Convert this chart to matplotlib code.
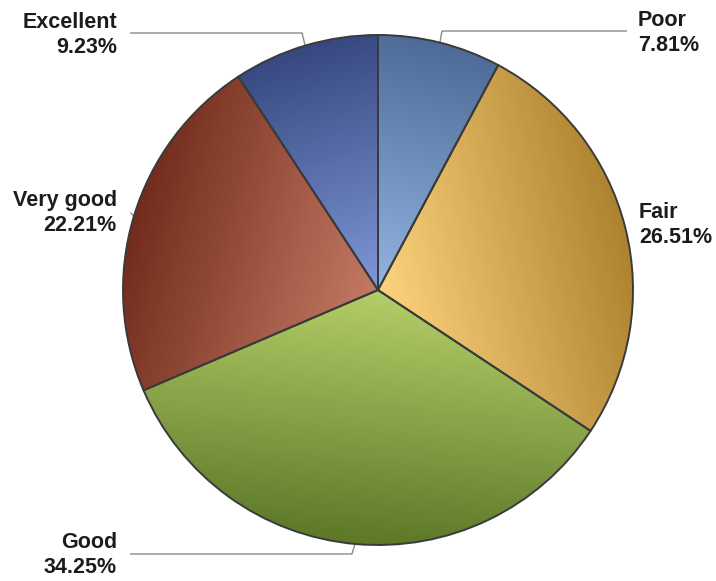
import numpy as np
import matplotlib
matplotlib.use('Agg')
from matplotlib import pyplot as plt
from matplotlib.colors import LinearSegmentedColormap

# self-rated health shares, clockwise from the top
labels = ['Poor', 'Fair', 'Good', 'Very good', 'Excellent']
shares = [7.81, 26.51, 34.25, 22.21, 9.23]
# (light near centre, dark at rim) for each slice
shades = [('#96b4e2', '#4d6b96'),
          ('#fdd37e', '#ad8330'),
          ('#b4ce68', '#5c7828'),
          ('#c47a64', '#732c1c'),
          ('#7f98d8', '#374880')]

W, H = 716, 581
cx, cy, R = 378, 291, 255

fig = plt.figure(figsize=(W / 100, H / 100), dpi=100)
ax = fig.add_axes([0, 0, 1, 1])

wedges, _ = ax.pie(shares, startangle=90, counterclock=False,
                   center=(cx, cy), radius=R,
                   wedgeprops=dict(facecolor='none', edgecolor='#3a3a3a',
                                   linewidth=1.4, zorder=3))
ax.set_xlim(0, W)
ax.set_ylim(0, H)
ax.set_aspect('equal')
ax.axis('off')

# linear gradient along each slice's bisector, clipped to the slice
xs = np.linspace(0, W, W)
ys = np.linspace(0, H, H)
gx, gy = np.meshgrid(xs - cx, ys - cy)
for w, (light, dark) in zip(wedges, shades):
    mid = np.deg2rad((w.theta1 + w.theta2) / 2)
    t = (gx * np.cos(mid) + gy * np.sin(mid)) / R
    t = np.clip(t, 0, 1)
    cmap = LinearSegmentedColormap.from_list('g', [light, dark])
    im = ax.imshow(t, cmap=cmap, vmin=0, vmax=1, origin='lower',
                   extent=(0, W, 0, H), zorder=1, interpolation='bilinear')
    im.set_clip_path(w)

txt = dict(fontsize=15.5, fontweight='bold', family='Liberation Sans',
           color='#1c1c1c', va='center', linespacing=1.3)

# label text: (x, y, alignment), leader: (line y, end x) or None
label_pos = [(638, 548, 'left'), (639, 356, 'left'), (117, 26, 'right'),
             (117, 368, 'right'), (117, 546, 'right')]
leaders = [(550, 627), None, (27, 130), (368, 131), (548, 130)]

for w, lab, val, (tx, ty, ha), ld in zip(wedges, labels, shares,
                                         label_pos, leaders):
    ax.text(tx, ty, f'{lab}\n{val:.2f}%', ha=ha, multialignment=ha, **txt)
    if ld is None:
        continue
    mid = np.deg2rad((w.theta1 + w.theta2) / 2)
    ax_, ay_ = cx + R * np.cos(mid), cy + R * np.sin(mid)
    ly, ex = ld
    elbow_x = ax_ + (2 if ex > cx else -3)
    ax.plot([ax_, elbow_x, ex], [ay_, ly, ly], color='#8a8a8a',
            linewidth=1.0, zorder=2, solid_capstyle='butt')

fig.savefig('out.png', dpi=100)
